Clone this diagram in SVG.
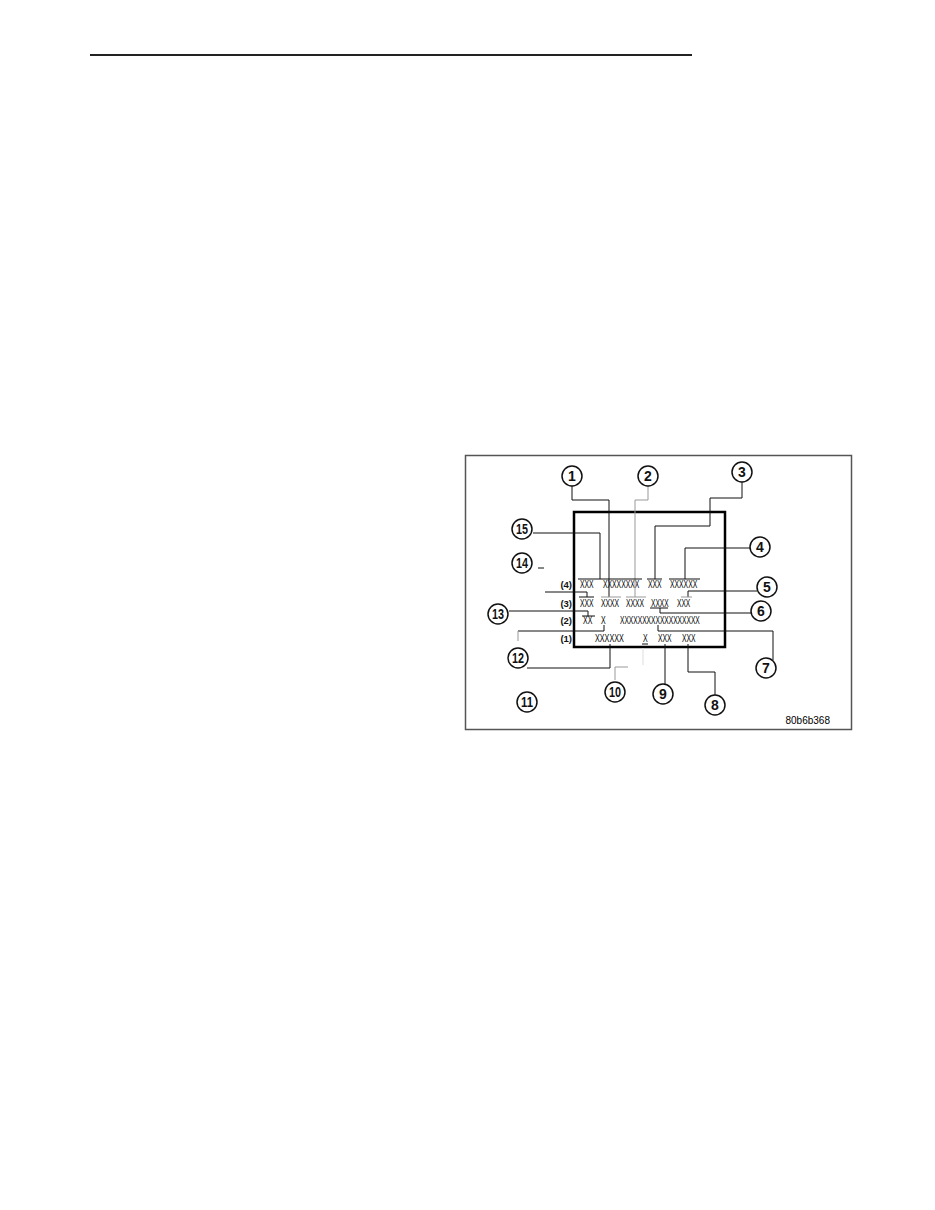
<svg xmlns="http://www.w3.org/2000/svg" width="935" height="1210" viewBox="0 0 935 1210">
<style>
.c circle{fill:#fff;stroke:#111;stroke-width:1.5}
.c text{font-family:"Liberation Sans",Arial,sans-serif;font-weight:bold;font-size:14px;text-anchor:middle;fill:#111}
.t{font-family:"Liberation Sans",Arial,sans-serif;font-size:10px;fill:#000}
.r{font-family:"Liberation Sans",Arial,sans-serif;font-size:9.5px;font-weight:bold;fill:#111;text-anchor:end}
.l{fill:none;stroke:#111;stroke-width:1}
.g{fill:none;stroke:#999;stroke-width:1}
.lg{fill:none;stroke:#ddd;stroke-width:1}
</style>
<rect width="935" height="1210" fill="#fff"/>
<line x1="90" y1="55" x2="692" y2="55" stroke="#222" stroke-width="2.2"/>
<g id="frame">
<rect x="465.5" y="455.5" width="386" height="274" fill="none" stroke="#555" stroke-width="1.5"/>
<text x="830" y="724" class="t" text-anchor="end" font-size="9">80b6b368</text>
</g>
<g id="panel">
<rect x="574" y="512" width="151" height="135" fill="none" stroke="#000" stroke-width="2.5"/>
<text class="r" x="572" y="588">(4)</text>
<text class="r" x="572" y="607">(3)</text>
<text class="r" x="572" y="624">(2)</text>
<text class="r" x="572" y="642">(1)</text>
<text class="t" transform="translate(580,588) scale(0.68,1)">XXX</text>
<text class="t" transform="translate(603,588) scale(0.68,1)">XXXXXXXX</text>
<text class="t" transform="translate(648,588) scale(0.68,1)">XXX</text>
<text class="t" transform="translate(670,588) scale(0.68,1)">XXXXXX</text>
<text class="t" transform="translate(580,607) scale(0.68,1)">XXX</text>
<text class="t" transform="translate(601,607) scale(0.68,1)">XXXX</text>
<text class="t" transform="translate(626,607) scale(0.68,1)">XXXX</text>
<text class="t" transform="translate(651,607) scale(0.66,1)">XXXX</text>
<text class="t" transform="translate(677,607) scale(0.66,1)">XXX</text>
<text class="t" transform="translate(583,624) scale(0.7,1)">XX</text>
<text class="t" transform="translate(601,624) scale(0.7,1)">X</text>
<text class="t" transform="translate(620,624) scale(0.665,1)">XXXXXXXXXXXXXXXXXX</text>
<text class="t" transform="translate(595,642) scale(0.72,1)">XXXXXX</text>
<text class="t" transform="translate(643,642) scale(0.7,1)">X</text>
<text class="t" transform="translate(658,642) scale(0.68,1)">XXX</text>
<text class="t" transform="translate(682,642) scale(0.68,1)">XXX</text>
</g>
<g id="connectors">
<polyline class="l" points="572,486 572,500 609,500 609,597"/>
<polyline class="g" points="648,486 648,500 635,500 635,597"/>
<polyline class="l" points="742,482 742,498 710,498 710,526 655,526 655,579"/>
<polyline class="l" points="750,548 685,548 685,579"/>
<polyline class="l" points="533,533 600,533 600,579"/>
<line class="l" x1="578" y1="579" x2="642" y2="579"/>
<line class="l" x1="647" y1="579" x2="662" y2="579"/>
<line class="l" x1="669" y1="579" x2="700" y2="579"/>
<line class="l" x1="538" y1="568" x2="544" y2="568"/>
<polyline class="l" points="545,592 587,592 587,597"/>
<line class="l" x1="579" y1="597" x2="594" y2="597"/>
<line class="g" x1="601" y1="597" x2="621" y2="597"/>
<line class="g" x1="626" y1="597" x2="646" y2="597"/>
<polyline class="l" points="757,591 688,591 688,597"/>
<line class="g" x1="681" y1="597" x2="692" y2="597"/>
<line class="l" x1="650" y1="608" x2="668" y2="608"/>
<polyline class="l" points="660,608 660,613 751,613"/>
<polyline class="l" points="509,611 588,611 588,616"/>
<line class="l" x1="582" y1="616" x2="595" y2="616"/>
<polyline class="l" points="518,631 604,631 604,625"/>
<line class="g" x1="518" y1="631" x2="518" y2="641"/>
<polyline class="l" points="773,660 773,631 658,631 658,625"/>
<polyline class="l" points="527,668 610,668 610,644"/>
<line class="l" x1="642" y1="644" x2="648" y2="644"/>
<line class="lg" x1="643" y1="648" x2="643" y2="665"/>
<polyline class="g" points="615,680 615,667 628,667"/>
<line class="l" x1="665" y1="644" x2="665" y2="684"/>
<polyline class="l" points="688,644 688,672 715,672 715,695"/>
</g>
<g id="c1" class="c"><circle cx="572" cy="476" r="10"/><text x="572" y="481">1</text></g>
<g id="c2" class="c"><circle cx="648" cy="476" r="10"/><text x="648" y="481">2</text></g>
<g id="c3" class="c"><circle cx="742" cy="472" r="10"/><text x="742" y="477">3</text></g>
<g id="c4" class="c"><circle cx="760" cy="547" r="10"/><text x="760" y="552">4</text></g>
<g id="c5" class="c"><circle cx="767" cy="587" r="10"/><text x="767" y="592">5</text></g>
<g id="c6" class="c"><circle cx="761" cy="611" r="10"/><text x="761" y="616">6</text></g>
<g id="c7" class="c"><circle cx="766" cy="668" r="10"/><text x="766" y="673">7</text></g>
<g id="c8" class="c"><circle cx="715" cy="705" r="10"/><text x="715" y="710">8</text></g>
<g id="c9" class="c"><circle cx="663" cy="694" r="10"/><text x="663" y="699">9</text></g>
<g id="c10" class="c"><circle cx="615" cy="692" r="10"/><text x="615" y="697" textLength="12" lengthAdjust="spacingAndGlyphs">10</text></g>
<g id="c11" class="c"><circle cx="527" cy="702" r="10"/><text x="527" y="707" textLength="12" lengthAdjust="spacingAndGlyphs">11</text></g>
<g id="c12" class="c"><circle cx="518" cy="658" r="10"/><text x="518" y="663" textLength="12" lengthAdjust="spacingAndGlyphs">12</text></g>
<g id="c13" class="c"><circle cx="498" cy="614" r="10"/><text x="498" y="619" textLength="12" lengthAdjust="spacingAndGlyphs">13</text></g>
<g id="c14" class="c"><circle cx="522" cy="563" r="10"/><text x="522" y="568" textLength="12" lengthAdjust="spacingAndGlyphs">14</text></g>
<g id="c15" class="c"><circle cx="522" cy="529" r="10"/><text x="522" y="534" textLength="12" lengthAdjust="spacingAndGlyphs">15</text></g>
</svg>
